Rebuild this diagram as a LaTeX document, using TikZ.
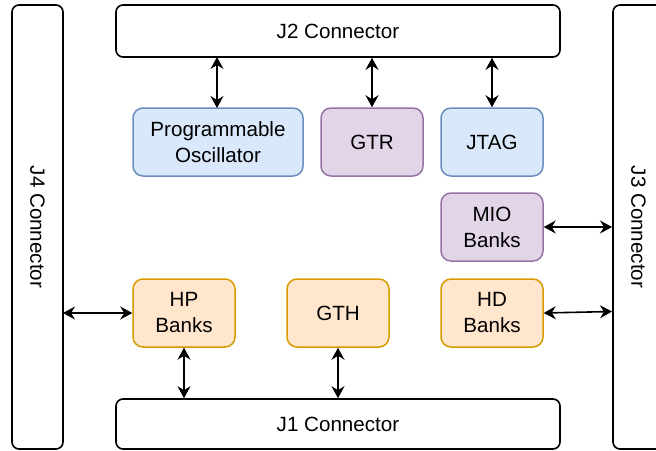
\documentclass[tikz,border=0pt]{standalone}
\usepackage{fontspec}
\setmainfont{Liberation Sans}
\usetikzlibrary{arrows.meta}
\definecolor{bfill}{HTML}{DAE8FC}\definecolor{bdraw}{HTML}{6C8EBF}
\definecolor{pfill}{HTML}{E1D5E7}\definecolor{pdraw}{HTML}{9673A6}
\definecolor{ofill}{HTML}{FFE6CC}\definecolor{odraw}{HTML}{D79B00}
\begin{document}
\begin{tikzpicture}[x=1pt,y=-1pt,
  every node/.style={font=\fontsize{20.6}{26}\selectfont, align=center, inner sep=0pt},
  conn/.style={draw=black, line width=1.6pt, rounded corners=7pt, fill=white},
  blk/.style={line width=1.5pt, rounded corners=10pt, minimum width=102pt, minimum height=68pt},
  blue/.style={blk, draw=bdraw, fill=bfill},
  purp/.style={blk, draw=pdraw, fill=pfill},
  oran/.style={blk, draw=odraw, fill=ofill},
  arr/.style={line width=1.6pt, {Stealth[length=12pt,width=13pt,inset=4pt]}-{Stealth[length=12pt,width=13pt,inset=4pt]}}]
\useasboundingbox (0,0) rectangle (656,450);
\node[conn, minimum width=444pt, minimum height=52pt] (J2) at (338,31) {J2 Connector};
\node[conn, minimum width=444pt, minimum height=50pt] (J1) at (338,424) {J1 Connector};
\node[conn, minimum width=444pt, minimum height=51pt, rotate=-90] (J4) at (37.5,227) {J4 Connector};
\node[conn, minimum width=444pt, minimum height=51pt, rotate=-90] (J3) at (638.5,227) {J3 Connector};
\node[blue, minimum width=170pt] (PO) at (218,142) {Programmable\\Oscillator};
\node[purp] (GTR) at (372,142) {GTR};
\node[blue] (JTAG) at (492,142) {JTAG};
\node[purp] (MIO) at (492,227) {MIO\\Banks};
\node[oran] (HP) at (184,313) {HP\\Banks};
\node[oran] (GTH) at (338,313) {GTH};
\node[oran] (HD) at (492,313) {HD\\Banks};
\coordinate (a1) at (217,57);
\coordinate (a1b) at (217,108);
\draw[arr] (a1) -- (a1b);
\draw[arr] (J2.south -| GTR.north) -- (GTR.north);
\draw[arr] (J2.south -| JTAG.north) -- (JTAG.north);
\draw[arr] (MIO.east) -- (MIO.east -| 612,0);
\coordinate (hdend) at (612,311.5);
\draw[arr] (HD.east) -- (hdend);
\coordinate (j4e) at (63,313);
\draw[arr] (j4e) -- (HP.west);
\draw[arr] (HP.south) -- (HP.south |- J1.north);
\draw[arr] (GTH.south) -- (GTH.south |- J1.north);
\end{tikzpicture}
\end{document}
